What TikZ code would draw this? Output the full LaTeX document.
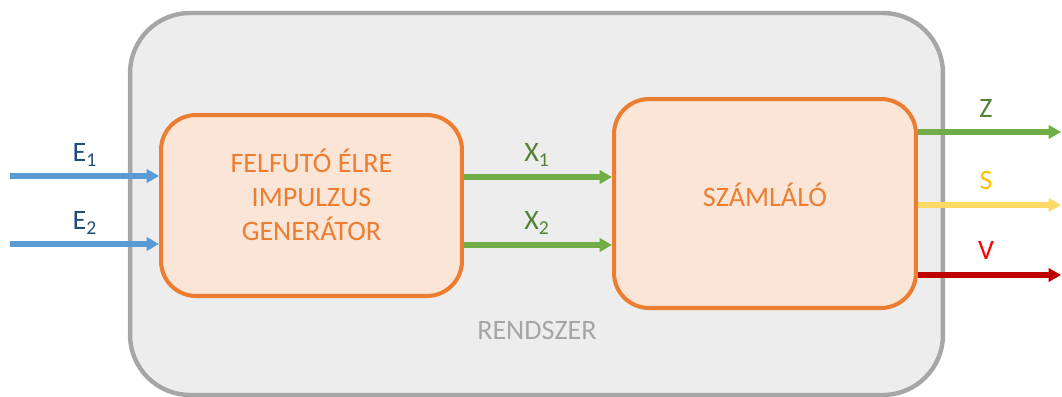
\documentclass[tikz,border=0pt]{standalone}
\usepackage{fontspec}
\setmainfont{Carlito}
\usepackage{xcolor}
\usetikzlibrary{arrows.meta,positioning}
\definecolor{sysline}{HTML}{A6A6A6}
\definecolor{sysfill}{HTML}{EDEDED}
\definecolor{orgline}{HTML}{ED7D31}
\definecolor{orgfill}{HTML}{FBE5D6}
\definecolor{inblue}{HTML}{5B9BD5}
\definecolor{intext}{HTML}{1F4E79}
\definecolor{xgreen}{HTML}{70AD47}
\definecolor{xtext}{HTML}{548235}
\definecolor{syellow}{HTML}{FFD966}
\definecolor{stext}{HTML}{FFC000}
\definecolor{vred}{HTML}{C00000}
\definecolor{vtext}{HTML}{FF0000}
\tikzset{
  sysbox/.style={draw=sysline,line width=2.5pt,fill=sysfill,rounded corners=1.2cm,inner sep=0pt},
  blk/.style={draw=orgline,line width=2.3pt,fill=orgfill,rounded corners=0.7cm,inner sep=0pt},
  blktxt/.style={text=orgline,align=center,font=\fontsize{16}{19.5}\selectfont},
  lbl/.style={font=\fontsize{16}{18}\selectfont},
  arr/.style={-{Triangle[length=7pt,width=7.5pt]},line width=3pt},
}

\begin{document}
\begin{tikzpicture}[x=0.02cm,y=-0.02cm]
\useasboundingbox (0,0) rectangle (1062,396);
\node[sysbox,minimum width=16.26cm,minimum height=7.64cm] (sys) at (536.5,204) {};
\node[text=sysline,font=\fontsize{16}{18}\selectfont] (systxt) at (537,330) {RENDSZER};
\node[blk,minimum width=6.02cm,minimum height=3.62cm] (gen) at (311.5,205.5) {};
\node[blktxt] (gentxt) at (311.5,195) {FELFUTÓ ÉLRE\\IMPULZUS\\GENERÁTOR};
\node[blk,minimum width=6.04cm,minimum height=4.18cm] (cnt) at (765,203.5) {};
\node[blktxt] (cnttxt) at (765,195) {SZÁMLÁLÓ};
% inputs
\foreach \i/\y in {1/176,2/244} {
  \coordinate (e\i) at (10,\y);
  \draw[arr,inblue] (e\i) -- (e\i -| gen.west);
  \node[lbl,text=intext] (le\i) at (85,\y-21) {E\textsubscript{\i}};
}
% between the blocks
\foreach \i/\y in {1/177,2/245} {
  \coordinate (x\i) at (462,\y);
  \draw[arr,xgreen] (x\i -| gen.east) -- (x\i -| cnt.west);
  \node[lbl,text=xtext] (lx\i) at (537,\y-22) {X\textsubscript{\i}};
}
% outputs
\foreach \n/\y/\c in {z/132/xgreen,s/205/syellow,v/275/vred} {
  \coordinate (o\n) at (1061,\y);
  \draw[arr,\c] (o\n -| cnt.east) -- (o\n);
}
\node[lbl,text=xtext] (lz) at (986,108) {Z};
\node[lbl,text=stext] (ls) at (986,180) {S};
\node[lbl,text=vtext] (lv) at (986,250) {V};
\end{tikzpicture}
\end{document}
